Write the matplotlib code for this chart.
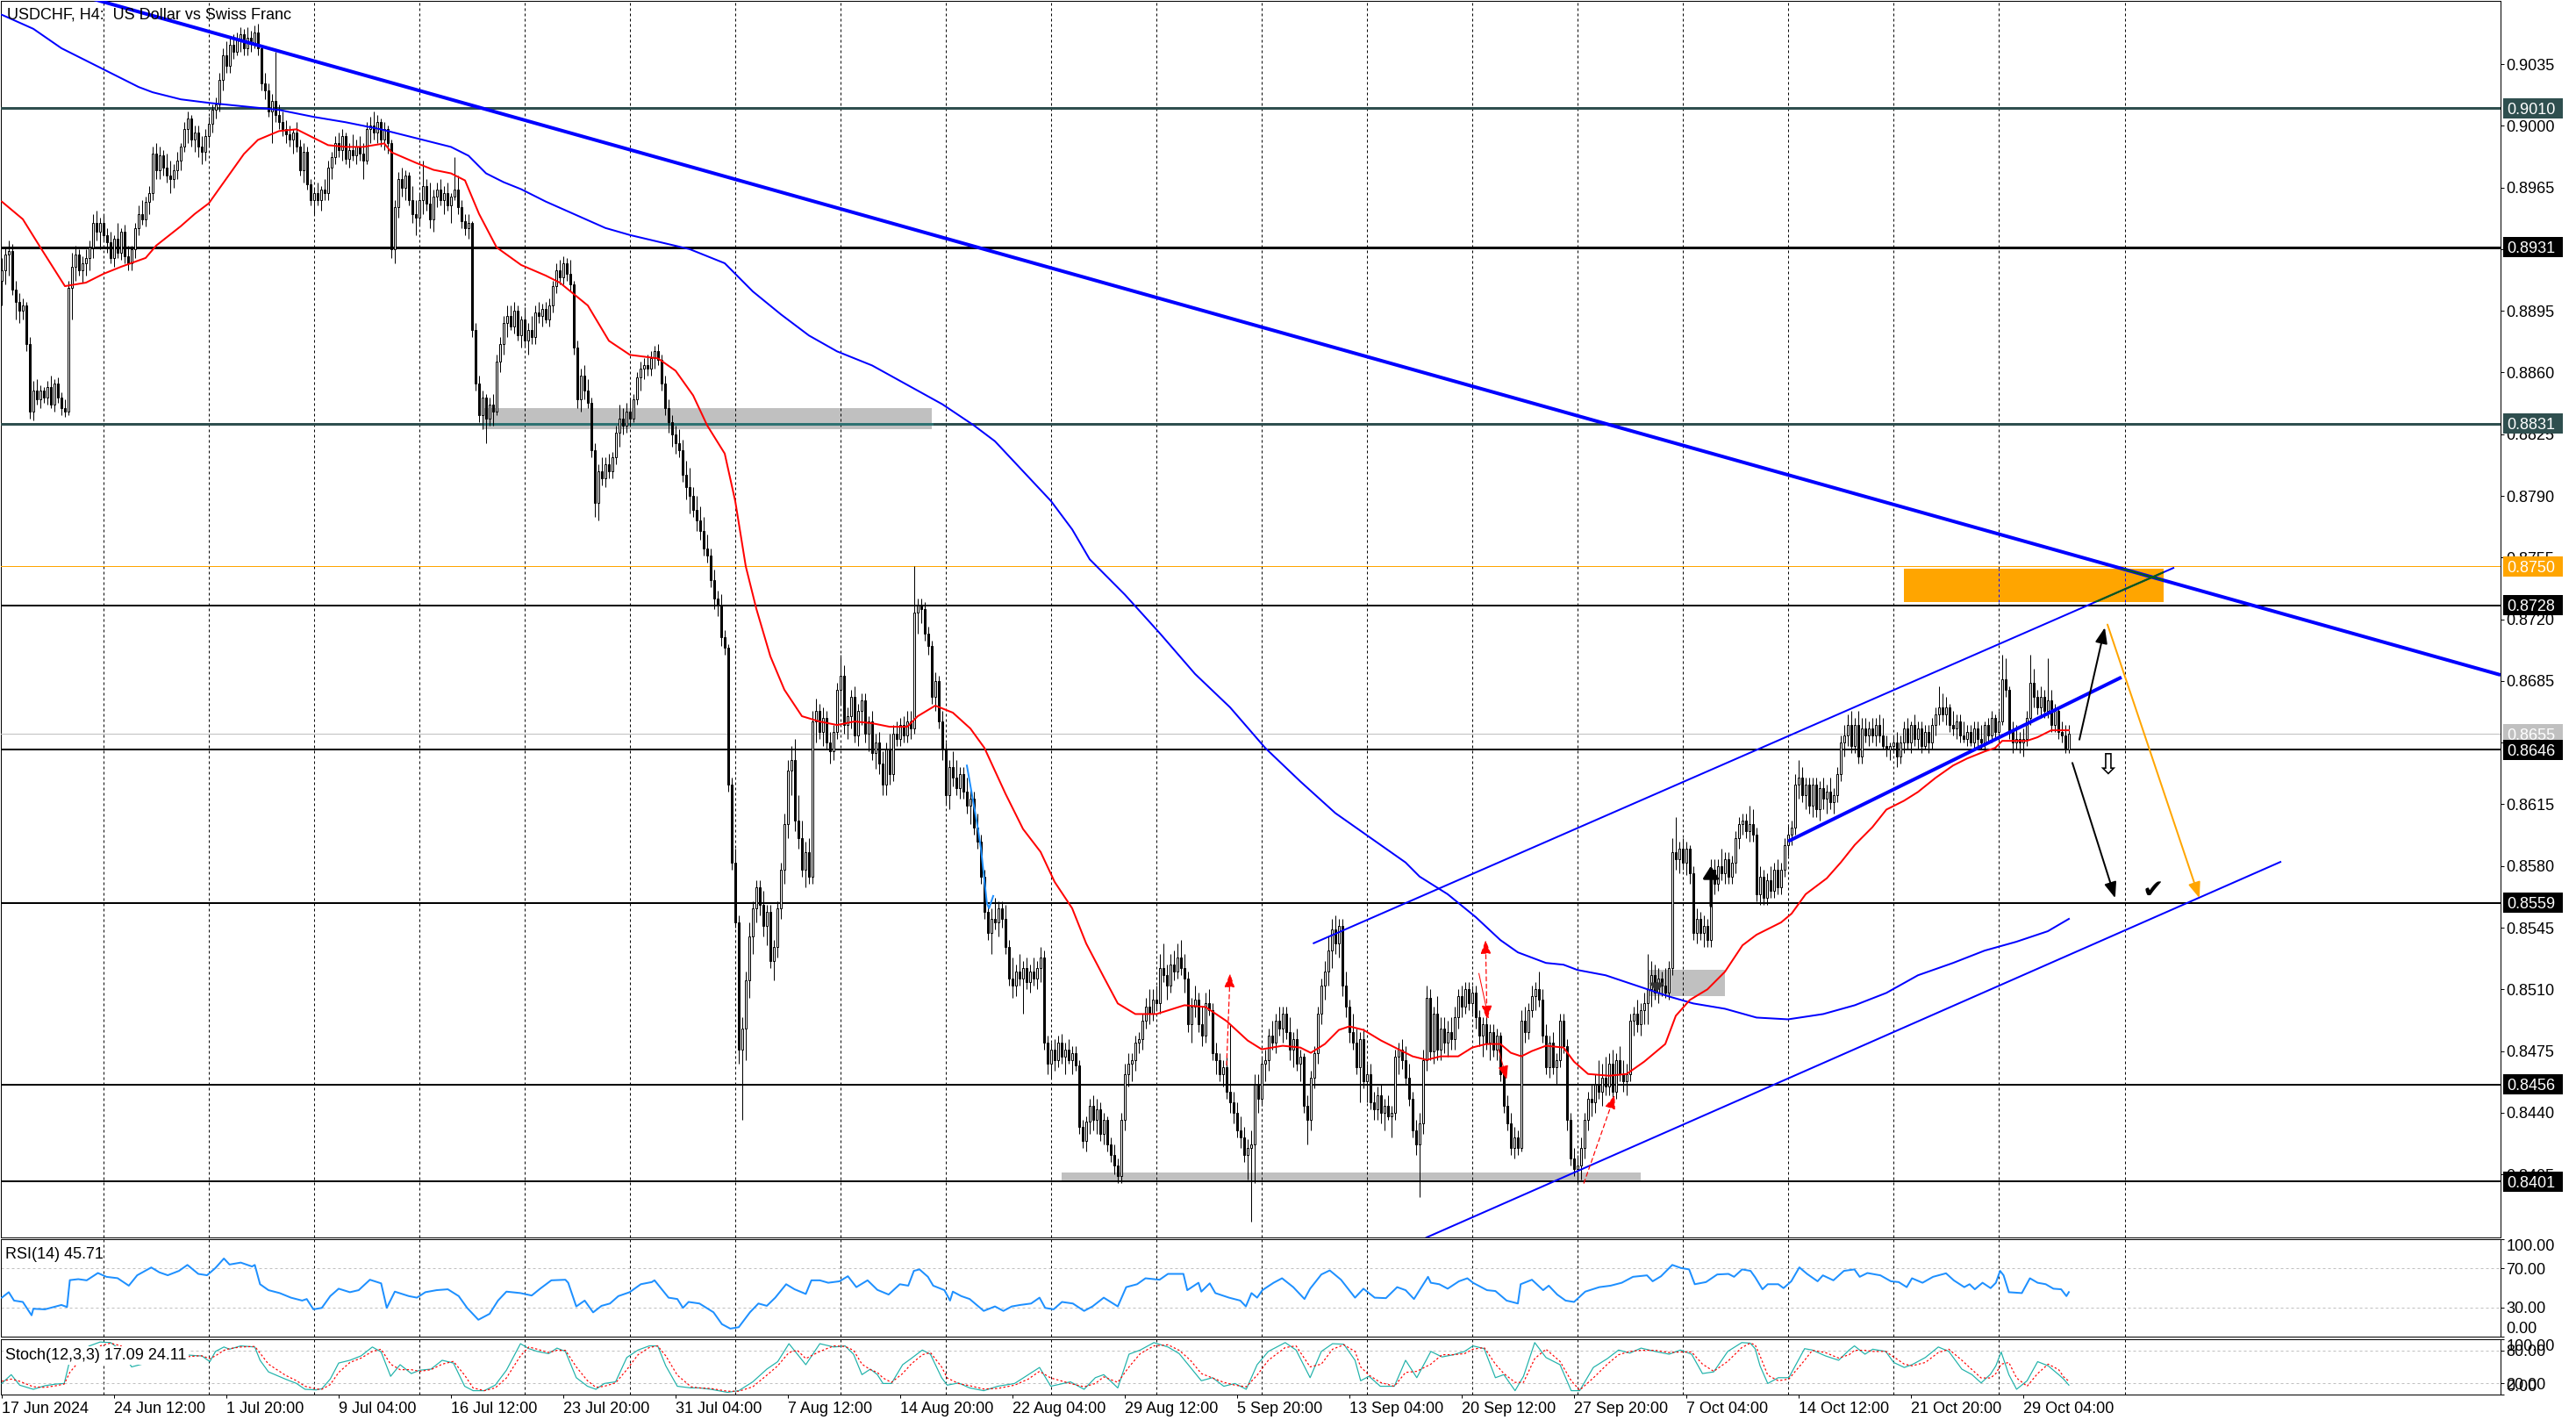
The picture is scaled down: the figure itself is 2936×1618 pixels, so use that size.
import numpy as np
import matplotlib
matplotlib.use("Agg")
import matplotlib.pyplot as plt
from matplotlib.patches import Rectangle
from matplotlib.transforms import blended_transform_factory

plt.rcParams['font.family'] = ['Liberation Sans', 'DejaVu Sans']
plt.rcParams['font.size'] = 13

# ---------------------------------------------------------------- data
title_text = "USDCHF, H4:  US Dollar vs Swiss Franc"

# H4 candles, prices in pips (x 0.0001)
opens = [
8912,8918,8927,8929,8907,8900,8895,8898,8876,8838, 8850,8845,8850,8846,8852,8842,8854,8846,8840,8838,
8908,8920,8927,8918,8922,8925,8931,8945,8940,8945, 8938,8934,8925,8936,8928,8940,8926,8922,8930,8942,
8950,8947,8957,8962,8984,8975,8983,8976,8972,8970, 8975,8980,8988,8998,9004,8992,8996,8988,8985,8994,
9001,9009,9012,9026,9040,9034,9046,9042,9049,9052, 9044,9050,9047,9053,9044,9024,9020,9008,9014,9006,
9002,8998,8995,8992,8996,8988,8975,8985,8967,8958, 8962,8958,8964,8962,8976,8982,8990,8986,8994,8981,
8986,8983,8988,8984,8980,8998,9000,8996,9002,8992, 8998,8990,8930,8954,8970,8965,8972,8958,8950,8948,
8958,8966,8956,8947,8960,8964,8958,8962,8955,8960, 8964,8954,8946,8942,8945,8884,8854,8836,8846,8834,
8842,8838,8866,8876,8888,8892,8886,8895,8881,8890, 8878,8884,8880,8894,8892,8896,8890,8898,8909,8918,
8914,8922,8916,8910,8874,8845,8858,8850,8843,8816, 8786,8804,8800,8808,8804,8812,8826,8834,8830,8838,
8834,8845,8857,8862,8864,8862,8868,8872,8867,8854, 8840,8832,8825,8820,8816,8802,8795,8790,8782,8776,
8770,8760,8756,8742,8732,8728,8710,8704,8626,8582, 8548,8476,8488,8515,8540,8556,8568,8558,8546,8554,
8526,8534,8556,8578,8604,8634,8640,8606,8596,8578, 8588,8574,8662,8668,8656,8664,8650,8645,8656,8680,
8688,8660,8665,8676,8654,8668,8674,8655,8662,8644, 8650,8638,8626,8646,8632,8655,8652,8660,8654,8662,
8658,8724,8728,8726,8712,8705,8676,8685,8662,8646, 8620,8636,8630,8624,8632,8622,8614,8618,8602,8594,
8574,8554,8542,8550,8548,8556,8550,8534,8516,8512, 8520,8516,8522,8514,8520,8516,8522,8528,8480,8468,
8476,8470,8480,8472,8476,8470,8474,8467,8432,8424, 8435,8444,8436,8442,8428,8436,8422,8416,8410,8404,
8436,8462,8468,8470,8480,8482,8492,8500,8496,8504, 8502,8522,8518,8512,8524,8520,8528,8522,8516,8490,
8500,8504,8490,8484,8502,8498,8474,8470,8462,8466, 8452,8446,8440,8430,8426,8416,8420,8422,8456,8448,
8468,8470,8484,8480,8492,8488,8496,8486,8476,8482, 8468,8472,8444,8436,8460,8474,8496,8512,8520,8532,
8544,8536,8546,8512,8500,8486,8480,8466,8482,8458, 8462,8446,8442,8450,8440,8444,8438,8440,8472,8476,
8470,8460,8448,8430,8422,8434,8470,8505,8475,8496, 8476,8488,8480,8486,8482,8494,8506,8500,8510,8502,
8508,8494,8484,8490,8480,8486,8476,8484,8462,8444, 8434,8420,8426,8420,8492,8486,8498,8506,8510,8504,
8484,8466,8480,8466,8470,8492,8478,8436,8414,8408, 8410,8420,8436,8448,8446,8456,8452,8460,8455,8468,
8452,8470,8462,8458,8462,8492,8496,8490,8498,8502, 8510,8518,8508,8516,8512,8508,8522,8588,8584,8590,
8582,8590,8576,8542,8550,8542,8546,8538,8578,8570, 8580,8576,8584,8574,8582,8596,8604,8606,8600,8604,
8598,8564,8574,8562,8572,8566,8578,8568,8578,8592, 8598,8602,8626,8630,8620,8626,8614,8626,8612,8624,
8618,8622,8616,8620,8632,8650,8654,8660,8648,8660, 8642,8658,8654,8658,8654,8660,8654,8648,8646,8648,
8650,8642,8650,8658,8650,8660,8652,8658,8648,8656, 8650,8660,8666,8670,8666,8670,8660,8658,8662,8654,
8652,8656,8650,8658,8652,8650,8660,8654,8664,8656, 8662,8686,8680,8656,8650,8652,8650,8652,8664,8684,
8676,8670,8676,8668,8674,8660,8668,8656,8654,8646]

highs = [
8925,8931,8935,8933,8912,8905,8902,8900,8880,8855, 8856,8853,8852,8855,8858,8856,8857,8849,8845,8912,
8928,8932,8930,8926,8930,8935,8950,8952,8948,8950, 8942,8940,8938,8945,8942,8944,8932,8932,8945,8955,
8958,8960,8966,8988,8990,8988,8986,8984,8980,8978, 8985,8990,9002,9008,9006,9000,9000,8994,8998,9005,
9012,9016,9030,9044,9048,9050,9052,9053,9056,9055, 9056,9054,9057,9058,9046,9030,9024,9018,9042,9012,
9008,9003,9000,8998,9002,8992,8990,8988,8970,8965, 8968,8966,8970,8980,8985,8994,8996,8998,8996,8990,
8995,8992,8994,8990,9002,9005,9008,9006,9004,9002, 9000,8992,8958,8974,8976,8975,8974,8966,8958,8962,
8980,8970,8968,8964,8968,8970,8966,8968,8962,8982, 8972,8958,8950,8950,8946,8888,8858,8850,8848,8846,
8848,8870,8880,8892,8898,8898,8900,8898,8892,8897, 8888,8892,8898,8900,8899,8900,8902,8912,8922,8924,
8926,8925,8924,8912,8878,8862,8864,8856,8846,8820, 8808,8812,8812,8814,8815,8830,8842,8840,8843,8846,
8848,8860,8866,8868,8870,8872,8875,8876,8870,8858, 8845,8836,8830,8828,8822,8810,8806,8795,8790,8784,
8778,8768,8760,8748,8736,8734,8714,8706,8630,8590, 8552,8494,8520,8548,8560,8572,8572,8566,8558,8558,
8538,8560,8582,8610,8640,8648,8652,8620,8606,8594, 8596,8668,8675,8672,8670,8668,8656,8660,8684,8700,
8694,8670,8680,8682,8672,8678,8678,8665,8668,8655, 8656,8645,8650,8655,8660,8662,8664,8665,8668,8668,
8750,8732,8732,8730,8716,8708,8690,8688,8668,8650, 8640,8645,8640,8636,8636,8630,8625,8622,8610,8598,
8578,8558,8556,8562,8560,8560,8558,8538,8528,8524, 8530,8526,8528,8524,8528,8526,8534,8532,8484,8480,
8482,8484,8485,8480,8482,8478,8478,8470,8436,8438, 8448,8450,8448,8446,8440,8438,8426,8422,8414,8440,
8468,8474,8474,8484,8486,8496,8505,8510,8510,8512, 8530,8536,8524,8530,8532,8536,8538,8530,8520,8505,
8512,8508,8500,8508,8510,8502,8480,8474,8470,8472, 8490,8452,8446,8438,8432,8425,8430,8462,8462,8472,
8476,8488,8492,8496,8500,8500,8500,8494,8486,8488, 8476,8474,8450,8464,8478,8500,8516,8526,8540,8550,
8552,8550,8550,8520,8504,8496,8488,8486,8488,8468, 8468,8452,8455,8456,8448,8450,8444,8476,8480,8482,
8478,8468,8452,8436,8440,8476,8512,8510,8500,8506, 8494,8494,8492,8494,8500,8510,8512,8514,8514,8512,
8512,8498,8494,8496,8490,8490,8488,8486,8466,8450, 8440,8432,8430,8498,8500,8502,8512,8514,8520,8510,
8490,8484,8486,8474,8496,8496,8482,8440,8420,8416, 8426,8440,8452,8456,8462,8470,8468,8472,8474,8476,
8474,8478,8470,8468,8496,8500,8504,8502,8508,8530, 8526,8524,8522,8520,8522,8526,8596,8608,8594,8596,
8594,8592,8580,8556,8554,8552,8550,8584,8584,8584, 8590,8588,8588,8586,8600,8608,8610,8610,8614,8612,
8602,8580,8578,8576,8580,8582,8584,8582,8596,8604, 8606,8632,8640,8636,8630,8630,8630,8630,8628,8630,
8626,8630,8624,8636,8654,8660,8666,8668,8664,8668, 8664,8664,8662,8664,8664,8666,8664,8654,8650,8654,
8656,8654,8662,8664,8662,8666,8662,8662,8660,8660, 8664,8670,8682,8678,8676,8672,8668,8666,8666,8662,
8660,8660,8662,8662,8660,8662,8664,8668,8666,8668, 8700,8698,8682,8662,8660,8656,8658,8668,8700,8692,
8680,8682,8680,8698,8680,8672,8670,8662,8660,8660]

lows = [
8898,8910,8915,8904,8890,8888,8890,8872,8834,8833, 8842,8840,8843,8842,8840,8838,8843,8836,8835,8836,
8890,8912,8915,8911,8915,8918,8925,8935,8930,8935, 8928,8922,8920,8925,8924,8922,8918,8918,8925,8938,
8944,8943,8950,8958,8970,8970,8972,8968,8962,8965, 8970,8975,8985,8990,8988,8985,8982,8978,8980,8988,
8996,9004,9008,9020,9030,9030,9038,9040,9042,9040, 9040,9042,9044,9040,9020,9015,9005,8990,9002,8998,
8994,8990,8988,8984,8985,8972,8968,8964,8955,8950, 8955,8952,8958,8958,8970,8978,8982,8980,8978,8976,
8980,8978,8980,8970,8978,8990,8992,8990,8988,8986, 8984,8925,8922,8948,8960,8958,8955,8945,8938,8944,
8950,8952,8942,8940,8954,8955,8950,8952,8945,8958, 8950,8942,8938,8936,8880,8850,8832,8828,8820,8830,
8830,8836,8860,8870,8880,8884,8882,8878,8874,8874, 8870,8876,8876,8888,8886,8888,8886,8894,8905,8910,
8910,8912,8906,8870,8840,8838,8845,8840,8812,8778, 8776,8796,8795,8800,8800,8808,8818,8825,8826,8830,
8832,8842,8850,8856,8858,8858,8862,8864,8850,8836, 8826,8818,8814,8812,8798,8788,8780,8778,8770,8765,
8756,8752,8738,8726,8722,8705,8700,8622,8578,8545, 8468,8436,8470,8505,8530,8548,8552,8540,8535,8522,
8515,8528,8550,8570,8596,8620,8600,8590,8574,8568, 8570,8570,8650,8652,8648,8646,8638,8640,8652,8672,
8655,8652,8658,8650,8648,8660,8650,8645,8640,8635, 8632,8620,8620,8626,8628,8648,8648,8650,8650,8652,
8655,8712,8718,8708,8700,8672,8668,8658,8640,8615, 8612,8625,8620,8618,8618,8610,8604,8598,8590,8570,
8550,8538,8530,8544,8540,8545,8530,8512,8505,8506, 8512,8496,8510,8508,8512,8510,8514,8476,8462,8460,
8464,8466,8468,8462,8468,8462,8464,8428,8420,8418, 8428,8430,8428,8424,8422,8418,8412,8405,8400,8400,
8430,8455,8458,8464,8474,8476,8488,8490,8492,8498, 8496,8514,8504,8508,8515,8516,8518,8508,8486,8480,
8494,8486,8478,8480,8495,8470,8462,8458,8455,8448, 8440,8434,8426,8420,8412,8402,8378,8400,8440,8444,
8458,8464,8476,8474,8484,8480,8482,8470,8466,8464, 8458,8440,8422,8430,8454,8468,8490,8504,8512,8522,
8530,8528,8506,8494,8480,8476,8462,8446,8454,8446, 8442,8436,8436,8434,8430,8436,8426,8436,8462,8465,
8456,8444,8426,8416,8392,8428,8464,8470,8468,8470, 8470,8474,8472,8476,8476,8488,8494,8496,8498,8496,
8488,8478,8472,8476,8470,8472,8470,8458,8440,8430, 8416,8414,8416,8418,8480,8482,8494,8498,8500,8480,
8462,8460,8462,8456,8466,8474,8430,8410,8404,8400, 8402,8414,8430,8438,8440,8448,8444,8450,8450,8446,
8448,8458,8452,8450,8458,8484,8486,8484,8490,8490, 8500,8504,8502,8506,8505,8504,8518,8578,8576,8578,
8575,8570,8538,8536,8538,8534,8534,8534,8564,8566, 8572,8570,8570,8570,8576,8590,8598,8596,8594,8594,
8560,8558,8558,8558,8562,8562,8564,8564,8574,8586, 8592,8598,8618,8616,8612,8610,8608,8608,8606,8612,
8610,8612,8610,8616,8628,8642,8648,8644,8644,8638, 8638,8650,8648,8650,8648,8650,8646,8642,8640,8644,
8636,8638,8644,8646,8644,8648,8646,8644,8646,8644, 8646,8654,8660,8662,8660,8656,8654,8652,8650,8650,
8648,8648,8646,8648,8646,8646,8650,8650,8652,8650, 8660,8676,8652,8644,8646,8644,8642,8648,8660,8670,
8666,8664,8664,8664,8656,8656,8652,8650,8644,8644]

closes = [
8918,8927,8929,8907,8900,8895,8898,8876,8838,8850, 8845,8850,8846,8852,8842,8854,8846,8840,8838,8908,
8920,8927,8918,8922,8925,8931,8945,8940,8945,8938, 8934,8925,8936,8928,8940,8926,8922,8930,8942,8950,
8947,8957,8962,8984,8975,8983,8976,8972,8970,8975, 8980,8988,8998,9004,8992,8996,8988,8985,8994,9001,
9009,9012,9026,9040,9034,9046,9042,9049,9052,9044, 9050,9047,9053,9044,9024,9020,9008,9014,9006,9002,
8998,8995,8992,8996,8988,8975,8985,8967,8958,8962, 8958,8964,8962,8976,8982,8990,8986,8994,8981,8986,
8983,8988,8984,8980,8998,9000,8996,9002,8992,8998, 8990,8930,8954,8970,8965,8972,8958,8950,8948,8958,
8966,8956,8947,8960,8964,8958,8962,8955,8960,8964, 8954,8946,8942,8945,8884,8854,8836,8846,8834,8842,
8838,8866,8876,8888,8892,8886,8895,8881,8890,8878, 8884,8880,8894,8892,8896,8890,8898,8909,8918,8914,
8922,8916,8910,8874,8845,8858,8850,8843,8816,8786, 8804,8800,8808,8804,8812,8826,8834,8830,8838,8834,
8845,8857,8862,8864,8862,8868,8872,8867,8854,8840, 8832,8825,8820,8816,8802,8795,8790,8782,8776,8770,
8760,8756,8742,8732,8728,8710,8704,8626,8582,8548, 8476,8488,8515,8540,8556,8568,8558,8546,8554,8526,
8534,8556,8578,8604,8634,8640,8606,8596,8578,8588, 8574,8662,8668,8656,8664,8650,8645,8656,8680,8688,
8660,8665,8676,8654,8668,8674,8655,8662,8644,8650, 8638,8626,8646,8632,8655,8652,8660,8654,8662,8658,
8724,8728,8726,8712,8705,8676,8685,8662,8646,8620, 8636,8630,8624,8632,8622,8614,8618,8602,8594,8574,
8554,8542,8550,8548,8556,8550,8534,8516,8512,8520, 8516,8522,8514,8520,8516,8522,8528,8480,8468,8476,
8470,8480,8472,8476,8470,8474,8467,8432,8424,8435, 8444,8436,8442,8428,8436,8422,8416,8410,8404,8436,
8462,8468,8470,8480,8482,8492,8500,8496,8504,8502, 8522,8518,8512,8524,8520,8528,8522,8516,8490,8500,
8504,8490,8484,8502,8498,8474,8470,8462,8466,8452, 8446,8440,8430,8426,8416,8420,8422,8456,8448,8468,
8470,8484,8480,8492,8488,8496,8486,8476,8482,8468, 8472,8444,8436,8460,8474,8496,8512,8520,8532,8544,
8536,8546,8512,8500,8486,8480,8466,8482,8458,8462, 8446,8442,8450,8440,8444,8438,8440,8472,8476,8470,
8460,8448,8430,8422,8434,8470,8505,8475,8496,8476, 8488,8480,8486,8482,8494,8506,8500,8510,8502,8508,
8494,8484,8490,8480,8486,8476,8484,8462,8444,8434, 8420,8426,8420,8492,8486,8498,8506,8510,8504,8484,
8466,8480,8466,8470,8492,8478,8436,8414,8408,8410, 8420,8436,8448,8446,8456,8452,8460,8455,8468,8452,
8470,8462,8458,8462,8492,8496,8490,8498,8502,8510, 8518,8508,8516,8512,8508,8522,8588,8584,8590,8582,
8590,8576,8542,8550,8542,8546,8538,8578,8570,8580, 8576,8584,8574,8582,8596,8604,8606,8600,8604,8598,
8564,8574,8562,8572,8566,8578,8568,8578,8592,8598, 8602,8626,8630,8620,8626,8614,8626,8612,8624,8618,
8622,8616,8620,8632,8650,8654,8660,8648,8660,8642, 8658,8654,8658,8654,8660,8654,8648,8646,8648,8650,
8642,8650,8658,8650,8660,8652,8658,8648,8656,8650, 8660,8666,8670,8666,8670,8660,8658,8662,8654,8652,
8656,8650,8658,8652,8650,8660,8654,8664,8656,8662, 8686,8680,8656,8650,8652,8650,8652,8664,8684,8676,
8670,8676,8668,8674,8660,8668,8656,8654,8646,8655]

# moving averages (bar index, price)
ma_fast = [(0,.8957),(6,.8947),(11,.8931),(18,.8909),(24,.8911),(29,.8916),(34,.8920),(41,.8925),
    (44,.8932),(51,.8943),(55,.8950),(59,.8956),(64,.8970),(69,.8984),(73,.8992),(79,.8997),(84,.8998),
    (89,.8993),(93,.8989),(98,.8988),(103,.8988),(109,.8990),(111,.8985),(118,.8979),(123,.8975),
    (128,.8973),(132,.8969),(136,.8950),(141,.8931),(148,.8921),(155,.8915),(159,.8911),(167,.8898),
    (173,.8878),(179,.8870),(187,.8868),(192,.8861),(197,.8847),(201,.8830),(206,.8814),(209,.8787),
    (212,.8750),(215,.8726),(219,.8699),(223,.8680),(228,.8665),(233,.8662),(238,.8660),(243,.8662),
    (248,.8661),(253,.8659),(258,.8659),(261,.8665),(266,.8671),(271,.8667),(276,.8658),(280,.8647),
    (286,.8621),(291,.8601),(296,.8588),(300,.8571),(305,.8556),(309,.8536),(314,.8517),(318,.8502),
    (323,.8496),(329,.8496),(337,.8501),(343,.8500),(349,.8492),(355,.8481),(359,.8476),(365,.8478),
    (370,.8477),(373,.8474),(377,.8479),(381,.8487),(384,.8489),(388,.8487),(393,.8481),(398,.8476),
    (402,.8472),(406,.8470),(410,.8472),(415,.8472),(419,.8477),(423,.8479),(427,.8479),(430,.8474),
    (433,.8472),(436,.8475),(440,.8478),(445,.8477),(448,.8469),(452,.8462),(458,.8461),(463,.8462),
    (468,.8469),(474,.8479),(477,.8495),(481,.8504),(486,.8510),(491,.8520),(496,.8535),(500,.8541),
    (507,.8548),(510,.8553),(514,.8564),(520,.8573),(524,.8582),(528,.8592),(533,.8602),(537,.8612),
    (542,.8617),(546,.8622),(551,.8630),(556,.8637),(560,.8641),(565,.8645),(568,.8647),(570,.8651),
    (577,.8651),(580,.8653),(584,.8657),(589,.8657)]

ma_slow = [(0,.9063),(9,.9055),(17,.9044),(26,.9035),(31,.9030),(39,.9022),(43,.9019),(51,.9015),
    (59,.9013),(69,.9011),(79,.9009),(89,.9005),(98,.9002),(108,.8998),(118,.8993),(128,.8988),
    (133,.8983),(138,.8973),(143,.8968),(148,.8964),(155,.8957),(172,.8942),(179,.8938),(196,.8930),
    (206,.8922),(214,.8906),(222,.8893),(230,.8881),(238,.8872),(248,.8864),(258,.8853),(268,.8842),
    (277,.8830),(283,.8821),(291,.8804),(299,.8787),(305,.8771),(310,.8754),(320,.8734),(330,.8712),
    (340,.8689),(350,.8670),(360,.8647),(370,.8628),(380,.8610),(390,.8596),(400,.8582),(404,.8574),
    (412,.8564),(420,.8551),(427,.8538),(432,.8531),(440,.8525),(445,.8524),(449,.8521),(457,.8518),
    (466,.8512),(475,.8506),(482,.8502),(491,.8499),(500,.8494),(509,.8493),(519,.8496),(528,.8501),
    (537,.8508),(546,.8518),(556,.8525),(565,.8532),(574,.8537),(583,.8543),(589,.8550)]

# RSI(14)
rsi_pts = [(0,40),(2,45.6),(3.5,37),(6,35.6),(8.5,21.9),(9,28.6),(12.3,28),(15.5,31),(17,32.5),
    (18.6,30.4),(19.4,58),(21.8,59),(24.2,57.8),(27.4,65.3),(29.8,61.4),(33,60),(36.2,52.3),(38.6,63),
    (42.6,71),(44.9,66),(47.3,63),(50.5,67.5),(52.9,73.6),(56,64.4),(58.5,63),(60.9,70.5),(63.3,80.2),
    (64.9,74),(68.1,76),(71.3,72),(72.1,73.6),(73.6,53.8),(76,47.7),(79.2,44.7),(82.4,40),(85.6,37),
    (86.9,38.6),(88.8,28),(91.2,29.5),(93.6,41.6),(96,49.2),(99.2,45.6),(101.7,47.7),(104.9,58.4),
    (108.1,54.7),(109.7,29.5),(112,46.2),(116,41.6),(118.3,40),(120.7,45.6),(123.9,47.7),(127.1,48.6),
    (130.2,41.6),(132.6,29.5),(135.8,17.3),(139,23.4),(141.4,37),(143.8,46.2),(147.8,44.7),(151,42.2),
    (153.4,49.2),(156.6,57.8),(160.6,58.4),(161.4,55.3),(163.7,31),(166.1,37),(168.5,24.9),(170.9,31.6),
    (173.3,34),(175.7,41.6),(178.9,45.6),(182.1,53.8),(185.2,56),(186,57.8),(190,40),(192.5,38.6),
    (194.1,29.5),(195.7,35.6),(198.8,34),(202.8,25),(205.2,12.8),(207.6,8.2),(210,9.7),(213.2,25),
    (215.6,34),(218,31.6),(220.4,40),(223.5,53.8),(225.9,48.6),(229.1,43.8),(230.7,57.8),(233.1,57.8),
    (235.5,55.3),(238.7,56.8),(241.1,62),(243.5,50.8),(246.7,57.8),(249.5,48),(252.7,43.2),(255.9,53.8),
    (258.3,52.3),(259.9,67.5),(261.5,69),(263.9,61.4),(265.4,52.3),(268.6,47.7),(270.2,37),(271,46.2),
    (273.4,41.6),(275.8,38.6),(279.8,26.4),(283,31),(285.4,26.4),(287.8,31),(290.2,32.5),(293.3,34),
    (295.7,40),(297.3,29.5),(299.7,28),(302.1,35.6),(305.2,34),(308.4,26.4),(310.8,31),(314,40),(318,31),
    (320.4,50.8),(323.5,53.8),(325.9,59.9),(329.9,58.4),(332.3,64.4),(336.7,64.4),(337.8,47.7),(341,55.3),
    (341.8,46.2),(344.2,54.7),(345.8,44.7),(349.7,40),(352.9,37),(354.5,31),(356.1,44.7),(357.7,40),
    (359.2,47.7),(362.4,55.3),(364.8,59.9),(368,50.8),(371.2,38.6),(372.8,49.2),(376,63.8),(378.4,68),
    (381.6,58.4),(385.6,40),(388,49.2),(391.2,40),(394.4,39.5),(397.6,50.8),(400,47.7),(402.4,38.6),
    (406.4,61.4),(407.2,55.3),(409.6,53.8),(412,49.2),(415.2,56.8),(417.6,59.9),(419.2,55.3),(423.2,47.7),
    (425.6,46.8),(428.8,37),(432,34),(432.8,53.8),(436,58.4),(439.2,47.7),(440.8,52.3),(443.2,43.2),
    (445.6,37),(448,35.6),(451.2,46.2),(455.2,50.8),(458.4,52.3),(461.6,55.3),(464.8,61.4),(468.8,62.9),
    (470.4,56.8),(472.8,62),(476,73.6),(478.4,70.5),(480.8,69),(482.4,53.8),(485.6,56),(488.8,63.8),
    (492,64.4),(493.6,61.4),(495.9,69),(498.3,67.5),(499.6,61),(501.7,48.6),(503.2,53.8),(506.2,53.8),
    (507.7,49.8),(509.9,56.8),(512.2,71.1),(514.4,64.4),(517.4,56.8),(518.9,62.9),(521.9,57.8),(524.9,67.5),
    (527.9,69),(529.4,61.4),(531.6,65.3),(535.3,62.9),(538.3,56.8),(540.5,56),(542.8,50.8),(544.3,59.9),
    (547.3,55.3),(550.3,61.4),(554,65),(556.2,57.8),(559.2,50.8),(560.7,53.8),(562.2,48.6),(564.4,55.3),
    (566.7,49.8),(568.2,55.3),(569.4,67.5),(570.4,62.9),(571.9,45.6),(575.6,44.7),(577.9,59.9),(580.1,55.3),
    (582.4,53.8),(584.6,49.2),(586.8,48.6),(588.3,41.6),(589,45.71)]

# Stochastic(12,3,3): bar positions, %K and %D
stoch_bars = [0,2.7,5.1,9,12.3,15.5,17.8,19.4,22,25,28,31,34,37,40,44,48,52,56,57,59.3,60.9,63.3,64.9,
    68.1,72.1,73.6,76,80.8,84,86.4,89.6,91.2,93.6,96,99.2,102.4,105.6,108.1,110.8,113.5,116.7,119.1,
    122.3,125.5,128.7,131.9,134.3,137.5,140.6,143.8,147.8,150.2,152.6,155.8,158.2,160.6,163.7,166.9,
    169.3,171.7,174.9,178.1,181.3,184.5,186.9,189.2,192.5,196.4,198.8,202,206.8,210,214,218,221.1,
    224.3,226.7,229.1,233.1,237.1,240.3,242.7,245.1,247.5,249.5,251.1,253.5,256.7,259.1,262.3,264.6,
    267.8,269.4,272.6,275.8,279.8,283.8,288.6,292.5,295.7,298.9,304.5,308.4,311.6,314,318,321.2,324.4,
    328.3,332.3,335.5,338.7,341.8,345,348.2,351.4,354.6,357.7,360.9,365.7,368.8,372.8,376,379.2,382.4,
    385.6,387.2,389.6,392.8,396.8,400,403.2,407.2,410.4,413.6,416.8,419.2,422.4,425.6,428,431.2,433.6,
    436.8,440,444,447.2,449.6,453.5,457.5,460.7,463.9,467.1,471.1,475.1,478.3,481.5,484.6,487.8,491.8,
    495.8,498.2,499.6,501,503.2,506.2,509.2,513.7,515.9,519.6,523.4,526.4,527.9,530.9,533.1,536.8,
    539.1,542.1,544.3,548.1,551.8,554.8,558.5,561.4,564,566.7,568.2,569.7,571.9,574.1,577.1,580.1,
    583.1,586.1,587.5,589]
stoch_k = [20,36,17,9.5,16,19,20,62,75,88,95,94,80,50,55,68,62,72,70,70,59.5,78,86,82,88,86,62,41,28,
    20,9.5,8.4,10.5,28,57,62,70,86,77,33,54,38,44,46,62,57,15,7,7,17,44,92,83,78,74,84,78,30.5,15,9.5,
    20,23,67,80.5,88,88,52,15,12,12,9.5,4,7,23,46,59.5,92,73,54,92,86,88,73,36,46,36,20,20,54,65,80.5,
    73,30.5,17,21,12,7,15,20,36,49,15,23,9.5,30.5,36,12,73,80.5,94,86,74,49,25,30.5,15,20,9.5,54,78,
    94,80.5,30.5,78,92,91,62,25,33,15,15,62,30.5,78,68,72,78,88,83,30.5,36,7,33,94,67,54,7,7,49,65,
    80.5,75,84,78,73,80.5,73,38,41,78,94,93,83,52,20,30.5,30.5,83,80.5,70,62,80.5,88,73,82,78,58,49,
    54,67,86,78,46,36,21,37,52,77,36,9.5,25,59.5,52,36,28,17.09]
stoch_d = [24,28,24,14,13,16,19,40,60,78,88,93,88,66,55,62,64,68,70,70,65,70,80,83,86,87,75,55,35,
    25,15,10,9.5,18,40,58,66,78,82,55,45,45,42,45,55,60,35,12,7,12,30,70,86,82,76,80,80,50,25,13,15,
    21,45,72,85,88,70,35,14,12,11,6,6,14,35,52,76,80,65,78,88,87,80,55,45,40,30,22,38,55,72,76,50,30,
    20,16,10,11,17,28,42,30,20,14,20,32,22,50,74,88,90,80,62,38,30,22,17,14,35,62,85,88,50,55,82,90,
    78,50,35,22,15,40,42,55,72,72,74,82,85,55,38,22,22,65,82,60,25,8,30,55,72,78,80,80,76,77,77,55,
    42,60,85,93,90,70,35,25,28,62,80,76,66,72,80,80,78,78,68,55,52,58,76,82,62,45,30,30,38,55,58,30,
    15,38,55,45,32,24.11]

# horizontal levels (price, line colour, label colour, line width in px)
levels = [0.9010, 0.8931, 0.8831, 0.8750, 0.8728, 0.8655, 0.8646, 0.8559, 0.8456, 0.8401]
level_colors = ['#2F4F4F', '#000000', '#2F4F4F', '#FFA500', '#000000', '#C0C0C0',
                '#000000', '#000000', '#000000', '#000000']
level_px = [3, 3, 3, 1, 2, 1, 2, 2, 2, 2]

price_ticks = [0.9035, 0.9000, 0.8965, 0.8930, 0.8895, 0.8860, 0.8825, 0.8790, 0.8755, 0.8720,
               0.8685, 0.8650, 0.8615, 0.8580, 0.8545, 0.8510, 0.8475, 0.8440, 0.8405]

x_label_bars = [0, 32, 64, 96, 128, 160, 192, 224, 256, 288, 320, 352, 384, 416, 448, 480, 512, 544, 576]
x_labels = ['17 Jun 2024', '24 Jun 12:00', '1 Jul 20:00', '9 Jul 04:00', '16 Jul 12:00',
            '23 Jul 20:00', '31 Jul 04:00', '7 Aug 12:00', '14 Aug 20:00', '22 Aug 04:00',
            '29 Aug 12:00', '5 Sep 20:00', '13 Sep 04:00', '20 Sep 12:00', '27 Sep 20:00',
            '7 Oct 04:00', '14 Oct 12:00', '21 Oct 20:00', '29 Oct 04:00']
grid_bars = [29, 59, 89, 119, 149, 179, 209, 239, 269, 299, 329, 359, 389, 419, 449, 479, 509, 539, 569, 605]

# drawn objects: (bar0, price0, bar1, price1)
trend_down = (25, 0.90725, 712, 0.86884)
channel_up = (373.6, 0.8536, 619, 0.87493)
channel_low = (405.7, 0.8369, 649.5, 0.85825)
inner_line = (509, 0.8594, 604, 0.86871)
gray_zones = [(137, 0.8828, 265, 0.8840), (302, 0.84008, 467, 0.84062), (469, 0.8506, 491, 0.8521)]
orange_zone = (542, 0.87299, 616, 0.87488)
light_blue_path = [(275, .8637), (276.5, .8620), (278, .8603), (279, .8590), (280.7, .8559),
                   (281.3, .8556), (282.5, .8563)]

# ---------------------------------------------------------------- layout
W, H, DPI = 2936, 1618, 100
fig = plt.figure(figsize=(W / DPI, H / DPI), dpi=DPI)
fig.patch.set_facecolor('white')

LEFT, RIGHT = 1, 2850
MAIN_T, MAIN_B = 1, 1410
RSI_T, RSI_B = 1412, 1523
STO_T, STO_B = 1526, 1589
XMIN, XMAX = -0.25, 712.0
PX = 0.72  # points per pixel


def add_ax(top, bot):
    return fig.add_axes([LEFT / W, 1 - bot / H, (RIGHT - LEFT) / W, (bot - top) / H])


ax = add_ax(MAIN_T, MAIN_B)
ax_r = add_ax(RSI_T, RSI_B)
ax_s = add_ax(STO_T, STO_B)

for a in (ax, ax_r, ax_s):
    a.set_xlim(XMIN, XMAX)
    a.set_facecolor('white')
    for s in a.spines.values():
        s.set_linewidth(1 * PX)
        s.set_color('black')
    a.tick_params(axis='x', bottom=False, top=False, labelbottom=False)
    a.yaxis.tick_right()
    a.tick_params(axis='y', direction='out', length=3, width=PX, pad=1.6, labelsize=13,
                  left=False, right=True, labelleft=False, labelright=True, colors='black')
    for gb in grid_bars:
        a.axvline(gb, color='black', lw=PX, ls=(0, (3, 3)), zorder=1)

# ---------------------------------------------------------------- main panel
ax.set_ylim(0.836924, 0.907086)
ax.set_yticks(price_ticks)
ax.set_yticklabels([f"{p:.4f}" for p in price_ticks])

for (b0, p0, b1, p1) in gray_zones:
    ax.add_patch(Rectangle((b0, p0), b1 - b0, p1 - p0, facecolor='#C0C0C0', edgecolor='none', zorder=0.9))
ob0, op0, ob1, op1 = orange_zone
orange_rect = Rectangle((ob0, op0), ob1 - ob0, op1 - op0, facecolor='#FFA500', edgecolor='none', zorder=2)
ax.add_patch(orange_rect)
ax.vlines([569, 605], op0, op1, colors='#0000FF', lw=PX, linestyles=[(0, (3, 3))], zorder=2.2)

for p, col, w in zip(levels, level_colors, level_px):
    ax.axhline(p, color=col, lw=w * PX, zorder=3)
gz = gray_zones[0]
ax.plot([gz[0], gz[2]], [0.8831, 0.8831], color='#2E7272', lw=3 * PX, zorder=3.1)

o = np.array(opens) / 10000.0
hi = np.array(highs) / 10000.0
lo = np.array(lows) / 10000.0
c = np.array(closes) / 10000.0
idx = np.arange(len(c))
up = c >= o
ax.vlines(idx, lo, hi, color='black', lw=1 * PX, zorder=4)
ax.bar(idx[up], np.maximum(c[up] - o[up], 0.00002), bottom=o[up], width=0.62,
       facecolor='white', edgecolor='black', linewidth=1 * PX, zorder=5)
ax.bar(idx[~up], o[~up] - c[~up], bottom=c[~up], width=0.62,
       facecolor='black', edgecolor='black', linewidth=1 * PX, zorder=5)

# moving averages
ax.plot([b for b, _ in ma_slow], [v for _, v in ma_slow], color='#0000FF', lw=2 * PX, zorder=6)
ax.plot([b for b, _ in ma_fast], [v for _, v in ma_fast], color='#FF0000', lw=2 * PX, zorder=6)

# trend lines
for (b0, p0, b1, p1), w in [(trend_down, 4), (channel_up, 2), (channel_low, 2), (inner_line, 4)]:
    ax.plot([b0, b1], [p0, p1], color='#0000FF', lw=w * PX, zorder=6.5, solid_capstyle='butt')
for (b0, p0, b1, p1) in [trend_down, channel_up]:
    g, = ax.plot([b0, b1], [p0, p1], color='#0B600B', lw=2 * PX, zorder=6.6)
    g.set_clip_path(orange_rect)
ax.plot([b for b, _ in light_blue_path], [v for _, v in light_blue_path], color='#1E90FF',
        lw=2 * PX, zorder=6.5)


def arrow(x0, y0, x1, y1, color, lw, style='-|>', ls='-', hl=0.9, hw=0.35, ms=12, z=8):
    ax.annotate('', xy=(x1, y1), xytext=(x0, y0),
                arrowprops=dict(arrowstyle=f'{style},head_length={hl},head_width={hw}', color=color,
                                lw=lw, linestyle=ls, shrinkA=0, shrinkB=0, mutation_scale=ms),
                zorder=z, annotation_clip=False)


arrow(592, 0.86517, 599.25, 0.87153, 'black', 2 * PX)
arrow(590, 0.86385, 602.2, 0.85618, 'black', 2 * PX)
arrow(600, 0.87170, 626.2, 0.85618, '#FFA500', 2 * PX)
arrow(487, 0.85573, 487, 0.85800, 'black', 3 * PX, hl=0.7, hw=0.45, ms=12)
arrow(471.6, 0.85135, 471.6, 0.85085, '#333333', 2 * PX, hl=0.6, hw=0.5, ms=10)
dash = (0, (4, 3))
arrow(349.0, 0.8467, 350.0, 0.8519, 'red', 1.2 * PX, ls=dash, hl=0.8, hw=0.3, ms=12)
arrow(423.2, 0.8493, 422.8, 0.8538, 'red', 1.2 * PX, style='<|-|>', ls=dash, hl=0.8, hw=0.3, ms=12)
ax.plot([420.9, 423.6], [0.8519, 0.8494], color='red', lw=1 * PX, zorder=8)
arrow(426.5, 0.8476, 428.8, 0.8459, 'red', 1 * PX, hl=0.8, hw=0.3, ms=12)
arrow(450.8, 0.8400, 459.6, 0.8450, 'red', 1.2 * PX, ls=dash, hl=0.8, hw=0.3, ms=12)

ax.text(600, 0.8637, '\u21E9', family='DejaVu Sans', fontsize=24, ha='center', va='center', zorder=9)
ax.text(613, 0.8566, '\u2714', family='DejaVu Sans', fontsize=21, ha='center', va='center', zorder=9)

# highlighted price labels on the axis
btr = blended_transform_factory(ax.transAxes, ax.transData)
axw = RIGHT - LEFT
hh = 11.5 / 20082.0
for p, col in zip(levels, level_colors):
    ax.add_patch(Rectangle((1 + 3 / axw, p - hh), 68 / axw, 2 * hh, transform=btr, facecolor=col,
                           edgecolor='none', clip_on=False, zorder=20))
    ax.text(1 + 7 / axw, p, f"{p:.4f}", transform=btr, color='white', fontsize=13,
            ha='left', va='center_baseline', zorder=21, clip_on=False)

fig.text(8 / W, 1 - 22 / H, title_text, fontsize=13, va='baseline', ha='left', zorder=5)

# ---------------------------------------------------------------- RSI panel
ax_r.set_ylim(0, 100)
ax_r.axhline(70, color='#C0C0C0', lw=PX, ls=(0, (3, 3)), zorder=1.5)
ax_r.axhline(30, color='#C0C0C0', lw=PX, ls=(0, (3, 3)), zorder=1.5)
ax_r.plot([b for b, _ in rsi_pts], [v for _, v in rsi_pts], color='#1E90FF', lw=2 * PX, zorder=3)
ax_r.set_yticks([100, 70, 30, 0])
lbls = ax_r.set_yticklabels(['100.00', '70.00', '30.00', '0.00'])
lbls[0].set_va('top')
lbls[3].set_va('bottom')
fig.text(6 / W, 1 - 1434 / H, 'RSI(14) 45.71', fontsize=13, va='baseline', ha='left', zorder=5)

# ---------------------------------------------------------------- Stochastic panel
ax_s.set_ylim(0, 100)
ax_s.axhline(80, color='#C0C0C0', lw=PX, ls=(0, (3, 3)), zorder=1.5)
ax_s.axhline(20, color='#C0C0C0', lw=PX, ls=(0, (3, 3)), zorder=1.5)
ax_s.plot(stoch_bars, stoch_k, color='#20B2AA', lw=1.2 * PX, zorder=3)
ax_s.plot(stoch_bars, stoch_d, color='#FF0000', lw=1.2 * PX, ls=(0, (2, 2)), zorder=3)
ax_s.set_yticks([100, 80, 20, 0])
lbls = ax_s.set_yticklabels(['100.00', '80.00', '20.00', '0.00'])
lbls[0].set_va('top')
lbls[3].set_va('bottom')
fig.text(6 / W, 1 - 1549 / H, 'Stoch(12,3,3) 17.09 24.11', fontsize=13, va='baseline', ha='left',
         zorder=5, bbox=dict(facecolor='white', edgecolor='none', pad=1.5))

ax_s.set_xticks(x_label_bars)
ax_s.set_xticklabels(x_labels)
ax_s.tick_params(axis='x', bottom=True, labelbottom=True, direction='out', length=3, width=PX,
                 pad=3, labelsize=13)
for t in ax_s.get_xticklabels():
    t.set_ha('left')

fig.savefig('out.png', dpi=DPI, facecolor='white')
